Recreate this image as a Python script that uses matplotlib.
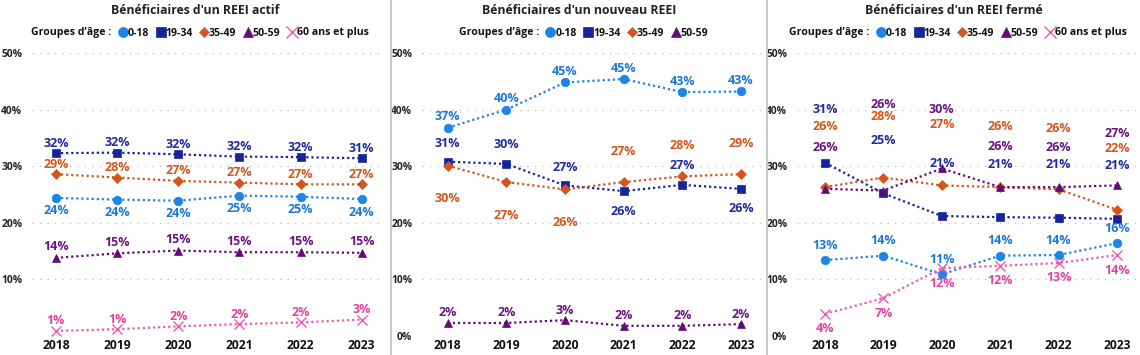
import matplotlib
matplotlib.use("Agg")
import matplotlib.pyplot as plt
from matplotlib.lines import Line2D

plt.rcParams['font.family'] = ['Open Sans', 'DejaVu Sans']

years = ['2018', '2019', '2020', '2021', '2022', '2023']
groups = ['0-18', '19-34', '35-49', '50-59', '60 ans et plus']

# Bénéficiaires d'un REEI actif (%)
actif_0_18 = [24.4, 24.1, 23.9, 24.8, 24.6, 24.2]
actif_19_34 = [32.3, 32.4, 32.1, 31.7, 31.6, 31.4]
actif_35_49 = [28.6, 28.0, 27.4, 27.1, 26.8, 26.8]
actif_50_59 = [13.8, 14.6, 15.1, 14.8, 14.8, 14.7]
actif_60_plus = [0.9, 1.2, 1.7, 2.1, 2.4, 2.9]

# Bénéficiaires d'un nouveau REEI (%)
nouveau_0_18 = [36.8, 40.0, 44.8, 45.4, 43.1, 43.2]
nouveau_19_34 = [30.8, 30.4, 26.6, 25.6, 26.7, 26.0]
nouveau_35_49 = [30.1, 27.2, 25.9, 27.2, 28.2, 28.6]
nouveau_50_59 = [2.3, 2.3, 2.8, 1.8, 1.8, 2.1]

# Bénéficiaires d'un REEI fermé (%)
ferme_0_18 = [13.4, 14.2, 10.9, 14.2, 14.3, 16.4]
ferme_19_34 = [30.6, 25.2, 21.2, 21.0, 20.9, 20.7]
ferme_35_49 = [26.3, 28.0, 26.6, 26.3, 25.9, 22.3]
ferme_50_59 = [26.0, 25.7, 29.6, 26.3, 26.3, 26.6]
ferme_60_plus = [3.9, 6.7, 12.0, 12.4, 12.9, 14.3]

# style per age group: marker, marker size, line colour, label colour
styles = {
    '0-18': ('o', 6.2, '#1E84E6', '#1C78D8'),
    '19-34': ('s', 6.0, '#16249A', '#1F2C9E'),
    '35-49': ('D', 4.6, '#D4561C', '#D4561C'),
    '50-59': ('^', 6.2, '#650A78', '#6A1480'),
    '60 ans et plus': ('x', 7, '#EE5BB0', '#E3439C'),
}

W, H = 1140, 355
fig = plt.figure(figsize=(W / 100, H / 100), dpi=100)
fig.patch.set_facecolor('white')


def px_axes(x0, x1, y_top, y_bot):
    return fig.add_axes([x0 / W, 1 - y_bot / H, (x1 - x0) / W, (y_bot - y_top) / H])


def draw_panel(ax, title, series, offsets, xlim, yticks, panel_x0, panel_x1):
    n = len(years)
    xs = list(range(n))
    for grp, vals in series:
        mk, ms, col, lcol = styles[grp]
        ax.plot(xs, vals, linestyle=(0, (1, 1.3)), lw=1.6, color=col,
                marker=mk, markersize=ms, markerfacecolor=col,
                markeredgecolor=col, markeredgewidth=1.0 if mk == 'x' else 0.5,
                clip_on=False, zorder=3)
        off = offsets[grp]
        if not isinstance(off, list):
            off = [off] * n
        for i, v in enumerate(vals):
            ax.annotate(f"{v:.0f}%", (i, v), xytext=(0, off[i]),
                        textcoords='offset pixels', ha='center', va='center',
                        fontsize=9, fontweight='bold', color=lcol, zorder=4)
    ax.set_xlim(*xlim)
    ax.set_ylim(0, 50)
    ax.set_xticks(xs)
    ax.set_xticklabels(years, fontsize=8.7, fontweight='bold', color='#111111')
    ax.set_yticks(yticks)
    ax.set_yticklabels([f"{t}%" for t in yticks], fontsize=7.4,
                       fontweight='bold', color='#222222')
    ax.tick_params(length=0, axis='x', pad=2)
    ax.tick_params(length=0, axis='y', pad=7)
    ax.grid(axis='y', color='#BDBDBD', lw=0.9, linestyle=(0, (1, 5)))
    ax.set_axisbelow(True)
    for s in ax.spines.values():
        s.set_visible(False)

    cx = (panel_x0 + panel_x1) / 2 / W
    fig.text(cx, 1 - 10 / H, title, ha='center', va='center',
             fontsize=8.8, fontweight='bold', color='#222222')

    handles = [Line2D([], [], linestyle='none')]
    labels = ["Groupes d\u2019\u00e2ge :"]
    for grp, _ in series:
        mk, ms, col, lcol = styles[grp]
        handles.append(Line2D([], [], linestyle='none', marker=mk,
                              markersize=ms + 1.0, color=col,
                              markeredgewidth=1.0 if mk == 'x' else 0.5))
        labels.append(grp)
    leg = fig.legend(handles, labels, loc='center', ncol=len(handles),
                     bbox_to_anchor=(cx, 1 - 33 / H), frameon=False,
                     handlelength=0.7, handletextpad=0.1, columnspacing=0.75,
                     borderaxespad=0, borderpad=0,
                     prop={'size': 7.6, 'weight': 'bold'})
    for t in leg.get_texts():
        t.set_color('#111111')


ax1 = px_axes(32, 385, 53, 336)
draw_panel(ax1, "B\u00e9n\u00e9ficiaires d'un REEI actif",
           [('0-18', actif_0_18), ('19-34', actif_19_34), ('35-49', actif_35_49),
            ('50-59', actif_50_59), ('60 ans et plus', actif_60_plus)],
           {'0-18': -13, '19-34': 10, '35-49': 10, '50-59': 11, '60 ans et plus': 10},
           (-0.39, 5.38), [10, 20, 30, 40, 50], 0, 391)

ax2 = px_axes(422, 762, 53, 336)
draw_panel(ax2, "B\u00e9n\u00e9ficiaires d'un nouveau REEI",
           [('0-18', nouveau_0_18), ('19-34', nouveau_19_34), ('35-49', nouveau_35_49),
            ('50-59', nouveau_50_59)],
           {'0-18': 11, '19-34': [18, 19, 18, -20, 19, -20],
            '35-49': [-33, -33, -33, 31, 31, 31], '50-59': 10},
           (-0.44, 5.36), [0, 10, 20, 30, 40, 50], 391, 767)

ax3 = px_axes(797, 1138, 53, 336)
draw_panel(ax3, "B\u00e9n\u00e9ficiaires d'un REEI ferm\u00e9",
           [('0-18', ferme_0_18), ('19-34', ferme_19_34), ('35-49', ferme_35_49),
            ('50-59', ferme_50_59), ('60 ans et plus', ferme_60_plus)],
           {'0-18': 15, '19-34': 53, '35-49': 61,
            '50-59': [41, 86, 59, 41, 40, 52], '60 ans et plus': -15},
           (-0.48, 5.36), [0, 10, 20, 30, 40, 50], 767, 1140)

# panel separators
for xsep in (391, 767):
    fig.add_artist(Line2D([xsep / W, xsep / W], [0, 1], color='#C8C8C8', lw=1.5))

fig.savefig('out.png', dpi=100, facecolor='white')
